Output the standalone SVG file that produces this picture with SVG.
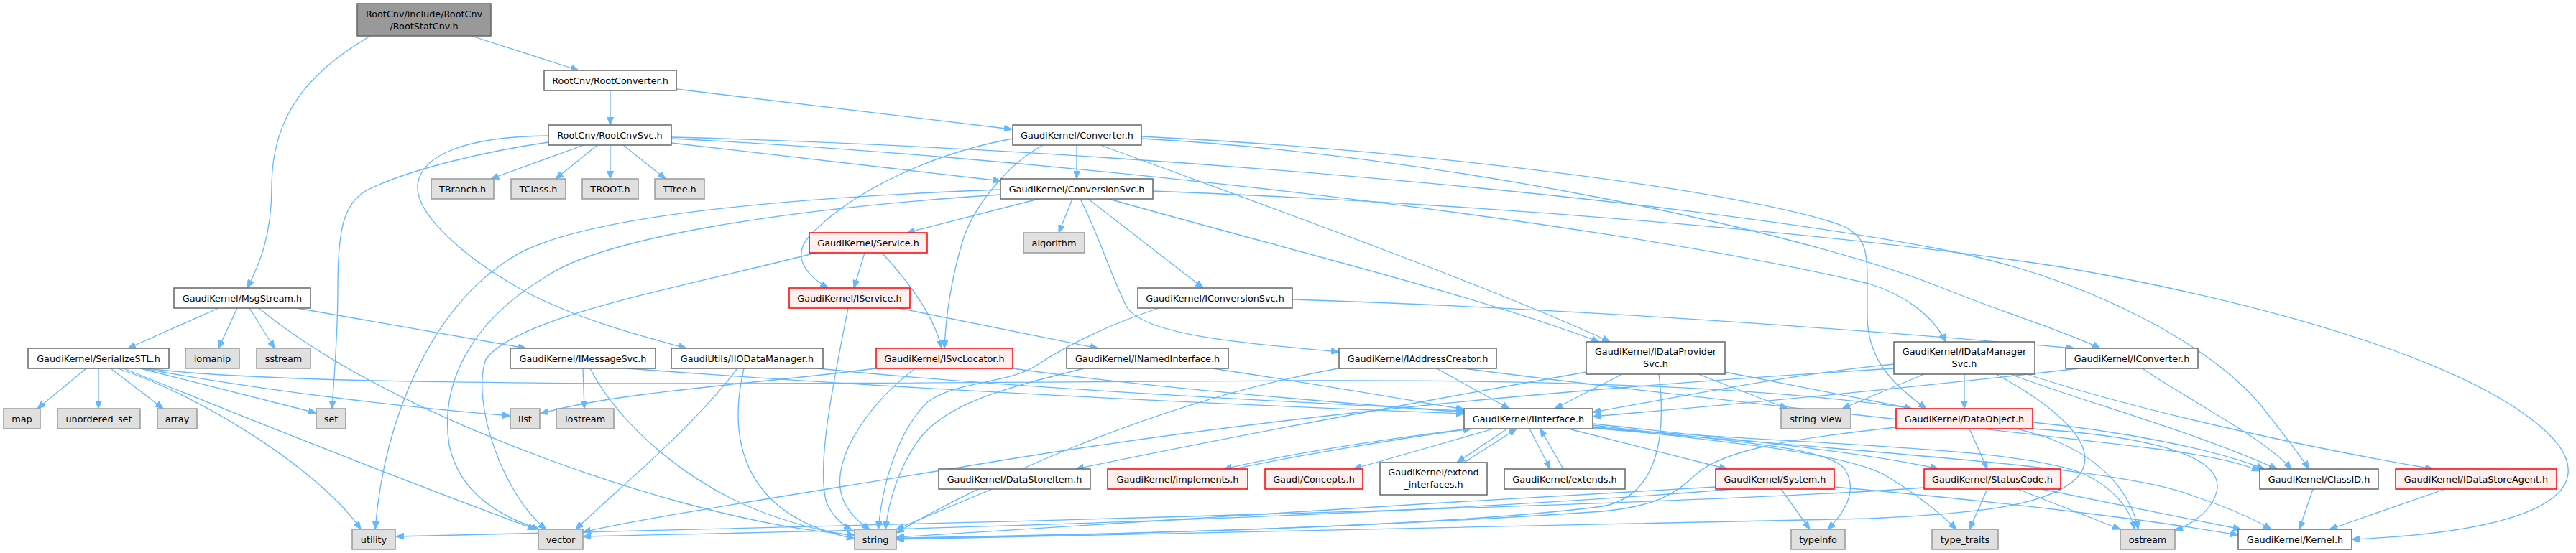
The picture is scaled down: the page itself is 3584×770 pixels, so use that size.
<svg xmlns="http://www.w3.org/2000/svg" width="3584" height="770" viewBox="0 0 3584 770">
<style>
rect{stroke-width:1.5}
.w rect{fill:#ffffff;stroke:#666666}
.g rect{fill:#e0e0e0;stroke:#999999}
.r rect{fill:#fff0f0;stroke:#ff0000}
.root rect{fill:#999999;stroke:#666666}
text{font-family:"DejaVu Sans","Liberation Sans",sans-serif;font-size:12.8px;text-anchor:middle;fill:#000000}
#edges path{fill:none;stroke:#63b8ff;stroke-width:1.3;marker-end:url(#a)}
</style>
<defs>
<marker id="a" markerWidth="11" markerHeight="9" refX="11" refY="4.5" orient="auto" markerUnits="userSpaceOnUse"><path d="M0,0 L11,4.5 L0,9 z" fill="#63b8ff" stroke="#63b8ff" stroke-width="1"/></marker>
</defs>
<rect width="3584" height="770" fill="#ffffff"/>
<g id="edges">
<path d="M656,50 L805,98"/>
<path d="M515,50 C430,100 378,160 378,260 C378,330 360,370 344,401"/>
<path d="M849,126 L849,174"/>
<path d="M941,124 L1408,180"/>
<path d="M812,202 L683,249"/>
<path d="M831,202 L773,249"/>
<path d="M849,202 L849,249"/>
<path d="M867,202 L926,249"/>
<path d="M763,198 C680,210 570,235 510,265 C478,283 470,320 470,400 C470,470 465,520 462,569"/>
<path d="M763,189 C650,190 585,215 581,258 C578,300 650,360 720,400 C800,445 900,470 955,485"/>
<path d="M934,199 L1393,252"/>
<path d="M934,191 C1500,205 2300,270 2700,347 C2900,385 3080,480 3150,570 C3185,615 3205,640 3212,653"/>
<path d="M934,193 C1400,215 2200,300 2600,395 C2650,410 2690,440 2707,476"/>
<path d="M1498,202 L1498,249"/>
<path d="M1409,193 C1290,215 1180,270 1125,330 C1100,360 1125,385 1152,401"/>
<path d="M1451,202 C1400,230 1352,290 1338,340 C1322,395 1316,440 1314,485"/>
<path d="M1531,202 C1800,300 2100,410 2240,476"/>
<path d="M1588,190 C2000,210 2450,270 2565,315 C2592,328 2598,345 2598,385 L2598,440 C2598,505 2640,540 2680,569"/>
<path d="M1588,193 C2000,215 2500,320 2700,400 C2800,440 2870,460 2922,485"/>
<path d="M1445,277 L1262,324"/>
<path d="M1492,277 L1473,324"/>
<path d="M1503,277 C1530,330 1548,390 1568,428 C1595,470 1760,480 1863,490"/>
<path d="M1514,277 L1674,401"/>
<path d="M1543,277 C1800,350 2050,410 2225,476"/>
<path d="M1604,266 C2100,285 2600,330 2869,372 C3200,430 3480,520 3560,620 C3610,690 3520,740 3272,751"/>
<path d="M1392,264 C1100,275 800,300 710,360 C600,430 535,580 522,737"/>
<path d="M1392,271 C1100,290 840,330 760,385 C650,450 612,540 625,620 C640,690 700,720 750,737"/>
<path d="M1203,352 L1188,401"/>
<path d="M1227,352 C1262,390 1300,440 1310,485"/>
<path d="M1135,352 C950,400 720,440 676,500 C655,560 700,690 760,737"/>
<path d="M304,429 L178,485"/>
<path d="M330,429 L304,485"/>
<path d="M347,429 L382,485"/>
<path d="M360,429 C520,560 800,660 950,700 C1060,730 1130,740 1189,745"/>
<path d="M413,429 L732,485"/>
<path d="M120,513 L52,569"/>
<path d="M137,513 L137,569"/>
<path d="M154,513 L227,569"/>
<path d="M164,513 C290,555 450,660 502,737"/>
<path d="M172,513 C350,585 550,665 745,737"/>
<path d="M195,513 C300,540 380,560 440,575"/>
<path d="M198,513 C400,550 600,570 710,579"/>
<path d="M198,512 C400,540 1000,535 1800,530 C2400,527 2700,560 2850,610 C2930,640 2965,690 2975,737"/>
<path d="M811,513 L813,569"/>
<path d="M821,513 C860,590 960,680 1080,720 C1130,737 1160,742 1189,746"/>
<path d="M872,513 C1300,545 1750,565 2037,576"/>
<path d="M1026,513 C960,600 860,680 801,737"/>
<path d="M1035,513 C1010,620 1040,720 1189,750"/>
<path d="M1138,513 C1400,540 1800,560 2037,572"/>
<path d="M1219,513 C1050,535 860,545 752,576"/>
<path d="M1273,513 C1200,570 1150,650 1175,700 C1185,720 1200,730 1210,737"/>
<path d="M1409,513 C1600,540 1850,560 2037,574"/>
<path d="M1180,429 C1160,530 1135,650 1150,700 C1160,722 1175,733 1185,737"/>
<path d="M1250,429 L1528,485"/>
<path d="M1798,417 C2200,430 2600,460 2886,485"/>
<path d="M1612,429 C1520,460 1470,490 1440,510 C1400,535 1330,530 1290,560 C1250,600 1228,670 1222,737"/>
<path d="M1687,513 C1800,530 1950,555 2037,570"/>
<path d="M1508,513 C1400,540 1320,560 1280,610 C1250,650 1236,700 1232,737"/>
<path d="M1997,512 L2100,569"/>
<path d="M1867,512 C1600,560 1350,680 1247,742"/>
<path d="M2028,512 C2400,560 2800,600 3000,625 C3080,635 3120,645 3144,656"/>
<path d="M2257,521 L2163,569"/>
<path d="M2363,521 L2487,569"/>
<path d="M2400,518 L2660,569"/>
<path d="M2308,521 C2318,600 2310,690 2230,705 C2000,735 1500,745 1247,750"/>
<path d="M2207,518 C2000,555 1700,610 1497,653"/>
<path d="M2635,507 C2500,520 2350,550 2216,574"/>
<path d="M2635,513 C2200,540 1800,575 1400,640 C1100,690 900,720 811,741"/>
<path d="M2677,521 L2563,569"/>
<path d="M2733,521 L2733,569"/>
<path d="M2797,521 C2900,560 3050,600 3168,653"/>
<path d="M2820,521 C3000,580 3250,630 3385,653"/>
<path d="M2777,521 C2850,560 2930,620 2890,665 C2850,705 2750,715 2600,722 C2000,735 1500,745 1247,751"/>
<path d="M2893,513 C2700,535 2450,560 2216,580"/>
<path d="M2979,512 C3050,560 3150,610 3188,653"/>
<path d="M2078,597 L1883,653"/>
<path d="M2097,597 L2027,644"/>
<path d="M2128,597 L2157,653"/>
<path d="M2043,597 C1900,615 1780,635 1703,653"/>
<path d="M2037,644 L2110,597"/>
<path d="M2175,653 L2143,597"/>
<path d="M1717,653 C1800,635 1950,610 2047,597"/>
<path d="M2182,597 L2403,653"/>
<path d="M2216,592 C2400,615 2545,620 2568,655 C2585,685 2565,715 2543,737"/>
<path d="M2216,590 C2400,610 2600,630 2697,653"/>
<path d="M2216,594 C2400,615 2560,630 2620,660 C2670,690 2700,715 2722,737"/>
<path d="M2216,595 C2500,620 2800,620 2900,660 C2950,685 2965,715 2970,737"/>
<path d="M2216,596 C2600,630 2950,650 3050,690 C3110,710 3140,725 3160,737"/>
<path d="M2740,597 L2765,653"/>
<path d="M2828,588 C2950,600 3080,625 3150,653"/>
<path d="M2828,597 C2950,605 3090,625 3085,680 C3080,710 3050,730 3026,738"/>
<path d="M2638,595 C2500,610 2400,625 2360,660 C2330,690 2300,705 2230,712 C1900,735 1500,745 1247,749"/>
<path d="M2387,678 C2000,700 1500,730 1247,748"/>
<path d="M2412,681 C2000,715 1400,735 811,747"/>
<path d="M2478,681 L2518,737"/>
<path d="M2552,678 C2800,700 3000,725 3114,745"/>
<path d="M2765,681 L2740,737"/>
<path d="M2807,681 L2950,737"/>
<path d="M2840,681 L3118,737"/>
<path d="M2677,679 C2400,700 1500,725 551,747"/>
<path d="M3218,681 L3199,737"/>
<path d="M3402,681 L3241,737"/>
<path d="M1380,681 L1247,737"/>
</g>
<g id="n0" class="root"><rect x="497" y="5" width="186" height="45"/><text x="590" y="23.5">RootCnv/include/RootCnv</text><text x="590" y="40.5">/RootStatCnv.h</text></g>
<g id="n1" class="w"><rect x="757" y="98" width="184" height="28"/><text x="849" y="116.5">RootCnv/RootConverter.h</text></g>
<g id="n2" class="w"><rect x="763" y="174" width="171" height="28"/><text x="848.5" y="192.5">RootCnv/RootCnvSvc.h</text></g>
<g id="n3" class="g"><rect x="600" y="249" width="87" height="28"/><text x="643.5" y="267.5">TBranch.h</text></g>
<g id="n4" class="g"><rect x="711" y="249" width="76" height="28"/><text x="749" y="267.5">TClass.h</text></g>
<g id="n5" class="g"><rect x="810" y="249" width="78" height="28"/><text x="849" y="267.5">TROOT.h</text></g>
<g id="n6" class="g"><rect x="911" y="249" width="69" height="28"/><text x="945.5" y="267.5">TTree.h</text></g>
<g id="n7" class="w"><rect x="1409" y="174" width="179" height="28"/><text x="1498.5" y="192.5">GaudiKernel/Converter.h</text></g>
<g id="n8" class="w"><rect x="1392" y="249" width="212" height="28"/><text x="1498" y="267.5">GaudiKernel/ConversionSvc.h</text></g>
<g id="n9" class="r"><rect x="1126" y="324" width="164" height="28"/><text x="1208" y="342.5">GaudiKernel/Service.h</text></g>
<g id="n10" class="g"><rect x="1424" y="324" width="85" height="28"/><text x="1466.5" y="342.5">algorithm</text></g>
<g id="n11" class="w"><rect x="242" y="401" width="190" height="28"/><text x="337" y="419.5">GaudiKernel/MsgStream.h</text></g>
<g id="n12" class="r"><rect x="1098" y="401" width="168" height="28"/><text x="1182" y="419.5">GaudiKernel/IService.h</text></g>
<g id="n13" class="w"><rect x="1583" y="401" width="215" height="28"/><text x="1690.5" y="419.5">GaudiKernel/IConversionSvc.h</text></g>
<g id="n14" class="w"><rect x="39" y="485" width="196" height="28"/><text x="137" y="503.5">GaudiKernel/SerializeSTL.h</text></g>
<g id="n15" class="g"><rect x="258" y="485" width="75" height="28"/><text x="295.5" y="503.5">iomanip</text></g>
<g id="n16" class="g"><rect x="357" y="485" width="75" height="28"/><text x="394.5" y="503.5">sstream</text></g>
<g id="n17" class="w"><rect x="710" y="485" width="202" height="28"/><text x="811" y="503.5">GaudiKernel/IMessageSvc.h</text></g>
<g id="n18" class="w"><rect x="934" y="485" width="211" height="28"/><text x="1039.5" y="503.5">GaudiUtils/IIODataManager.h</text></g>
<g id="n19" class="r"><rect x="1219" y="485" width="190" height="28"/><text x="1314" y="503.5">GaudiKernel/ISvcLocator.h</text></g>
<g id="n20" class="w"><rect x="1484" y="485" width="225" height="28"/><text x="1596.5" y="503.5">GaudiKernel/INamedInterface.h</text></g>
<g id="n21" class="w"><rect x="1863" y="485" width="219" height="28"/><text x="1972.5" y="503.5">GaudiKernel/IAddressCreator.h</text></g>
<g id="n22" class="w"><rect x="2207" y="476" width="193" height="45"/><text x="2303.5" y="494">GaudiKernel/IDataProvider</text><text x="2303.5" y="511">Svc.h</text></g>
<g id="n23" class="w"><rect x="2635" y="476" width="196" height="45"/><text x="2733" y="494">GaudiKernel/IDataManager</text><text x="2733" y="511">Svc.h</text></g>
<g id="n24" class="w"><rect x="2874" y="485" width="184" height="28"/><text x="2966" y="503.5">GaudiKernel/IConverter.h</text></g>
<g id="n25" class="g"><rect x="5" y="569" width="51" height="28"/><text x="30.5" y="587.5">map</text></g>
<g id="n26" class="g"><rect x="80" y="569" width="115" height="28"/><text x="137.5" y="587.5">unordered_set</text></g>
<g id="n27" class="g"><rect x="219" y="569" width="55" height="28"/><text x="246.5" y="587.5">array</text></g>
<g id="n28" class="g"><rect x="440" y="569" width="41" height="28"/><text x="460.5" y="587.5">set</text></g>
<g id="n29" class="g"><rect x="710" y="569" width="41" height="28"/><text x="730.5" y="587.5">list</text></g>
<g id="n30" class="g"><rect x="774" y="569" width="80" height="28"/><text x="814" y="587.5">iostream</text></g>
<g id="n31" class="w"><rect x="2037" y="569" width="179" height="28"/><text x="2126.5" y="587.5">GaudiKernel/IInterface.h</text></g>
<g id="n32" class="g"><rect x="2478" y="569" width="97" height="28"/><text x="2526.5" y="587.5">string_view</text></g>
<g id="n33" class="r"><rect x="2638" y="569" width="190" height="28"/><text x="2733" y="587.5">GaudiKernel/DataObject.h</text></g>
<g id="n34" class="w"><rect x="1306" y="653" width="211" height="28"/><text x="1411.5" y="671.5">GaudiKernel/DataStoreItem.h</text></g>
<g id="n35" class="r"><rect x="1541" y="653" width="195" height="28"/><text x="1638.5" y="671.5">GaudiKernel/implements.h</text></g>
<g id="n36" class="r"><rect x="1760" y="653" width="136" height="28"/><text x="1828" y="671.5">Gaudi/Concepts.h</text></g>
<g id="n37" class="w"><rect x="1920" y="644" width="149" height="45"/><text x="1994.5" y="662">GaudiKernel/extend</text><text x="1994.5" y="679">_interfaces.h</text></g>
<g id="n38" class="w"><rect x="2093" y="653" width="168" height="28"/><text x="2177" y="671.5">GaudiKernel/extends.h</text></g>
<g id="n39" class="r"><rect x="2387" y="653" width="165" height="28"/><text x="2469.5" y="671.5">GaudiKernel/System.h</text></g>
<g id="n40" class="r"><rect x="2677" y="653" width="190" height="28"/><text x="2772" y="671.5">GaudiKernel/StatusCode.h</text></g>
<g id="n41" class="w"><rect x="3144" y="653" width="165" height="28"/><text x="3226.5" y="671.5">GaudiKernel/ClassID.h</text></g>
<g id="n42" class="r"><rect x="3333" y="653" width="224" height="28"/><text x="3445" y="671.5">GaudiKernel/IDataStoreAgent.h</text></g>
<g id="n43" class="g"><rect x="490" y="737" width="60" height="28"/><text x="520" y="755.5">utility</text></g>
<g id="n44" class="g"><rect x="749" y="737" width="62" height="28"/><text x="780" y="755.5">vector</text></g>
<g id="n45" class="g"><rect x="1189" y="737" width="58" height="28"/><text x="1218" y="755.5">string</text></g>
<g id="n46" class="g"><rect x="2492" y="737" width="75" height="28"/><text x="2529.5" y="755.5">typeinfo</text></g>
<g id="n47" class="g"><rect x="2688" y="737" width="92" height="28"/><text x="2734" y="755.5">type_traits</text></g>
<g id="n48" class="g"><rect x="2950" y="737" width="76" height="28"/><text x="2988" y="755.5">ostream</text></g>
<g id="n49" class="w"><rect x="3114" y="737" width="158" height="28"/><text x="3193" y="755.5">GaudiKernel/Kernel.h</text></g>
</svg>
